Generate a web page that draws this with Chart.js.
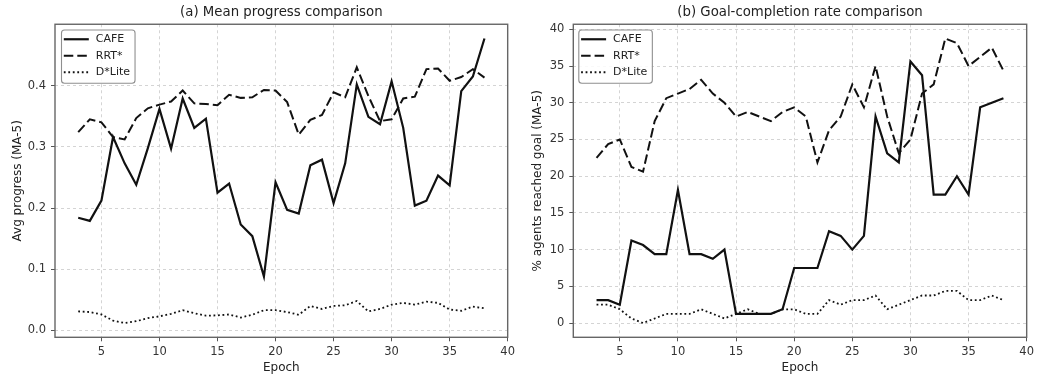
<!DOCTYPE html>
<html><head><meta charset="utf-8">
<script src="https://cdn.jsdelivr.net/npm/chart.js@4"></script>
<style>
html,body{margin:0;padding:0;background:#fff;}
#wrap{position:relative;width:1038px;height:380px;overflow:hidden;}
.box{position:absolute;top:0;height:380px;width:519px;}
</style></head><body>
<div id="wrap">
<div class="box" style="left:0"><canvas id="c1" width="519" height="380"></canvas></div>
<div class="box" style="left:519px"><canvas id="c2" width="519" height="380"></canvas></div>
</div>
<script>
const epochs = [3,4,5,6,7,8,9,10,11,12,13,14,15,16,17,18,19,20,21,22,23,24,25,26,27,28,29,30,31,32,33,34,35,36,37,38];
const seriesNames = ['CAFE', 'RRT*', 'D*Lite'];

const progCAFE = [0.184,0.179,0.212,0.316,0.273,0.238,0.298,0.362,0.297,0.379,0.331,0.346,0.225,0.240,0.173,0.154,0.088,0.242,0.197,0.191,0.270,0.279,0.208,0.273,0.402,0.349,0.337,0.407,0.331,0.204,0.212,0.253,0.237,0.391,0.415,0.477];
const progRRT = [0.324,0.345,0.340,0.316,0.312,0.347,0.363,0.369,0.374,0.392,0.371,0.370,0.368,0.385,0.380,0.381,0.393,0.392,0.373,0.320,0.344,0.352,0.389,0.381,0.430,0.383,0.342,0.345,0.379,0.382,0.427,0.428,0.408,0.414,0.427,0.413];
const progDLite = [0.031,0.030,0.026,0.016,0.012,0.015,0.020,0.023,0.027,0.033,0.028,0.024,0.0245,0.026,0.021,0.0255,0.033,0.033,0.030,0.0255,0.040,0.035,0.040,0.041,0.048,0.031,0.035,0.042,0.045,0.042,0.047,0.045,0.034,0.032,0.039,0.036];

const goalCAFE = [3.125,3.125,2.5,11.25,10.625,9.375,9.375,18.125,9.375,9.375,8.75,10.0,1.25,1.25,1.25,1.25,1.875,7.5,7.5,7.5,12.5,11.875,10.0,11.875,28.125,23.125,21.875,35.625,33.75,17.5,17.5,20.0,17.5,29.375,30.0,30.625];
const goalRRT = [22.5,24.375,25.0,21.25,20.625,27.5,30.625,31.25,31.875,33.125,31.25,30.0,28.125,28.75,28.125,27.5,28.75,29.375,28.125,21.875,26.25,28.125,32.5,29.375,35.0,28.125,23.125,25.0,31.25,32.5,38.75,38.125,35.0,36.25,37.5,34.375];
const goalDLite = [2.5,2.5,1.875,0.625,0,0.625,1.25,1.25,1.25,1.875,1.25,0.625,1.25,1.875,1.25,1.25,1.875,1.875,1.25,1.25,3.125,2.5,3.125,3.125,3.75,1.875,2.5,3.125,3.75,3.75,4.375,4.375,3.125,3.125,3.75,3.125];

const xTicks = [5,10,15,20,25,30,35,40];
const progTicks = [0.0,0.1,0.2,0.3,0.4];
const goalTicks = [0,5,10,15,20,25,30,35,40];

const FONT = '"DejaVu Sans", "Liberation Sans", sans-serif';
const styles = [
  {borderColor:'#111', borderWidth:2.2, borderDash:[]},
  {borderColor:'#111', borderWidth:2.0, borderDash:[9.5,4]},
  {borderColor:'#111', borderWidth:1.8, borderDash:[1.8,2.7]}
];

function makeDatasets(arrs){
  return arrs.map((vals,i)=>Object.assign({
    label: seriesNames[i],
    data: epochs.map((e,j)=>({x:e, y:vals[j]})),
    pointRadius:0, tension:0, fill:false
  }, styles[i]));
}

const framePlugin = {
  id:'frame',
  afterDatasetsDraw(chart){
    const {ctx, chartArea:a} = chart;
    ctx.save();
    ctx.strokeStyle = '#666'; ctx.lineWidth = 1.4; ctx.setLineDash([]);
    ctx.strokeRect(a.left, a.top, a.right-a.left, a.bottom-a.top);
    ctx.restore();
  }
};

const boxLegendPlugin = {
  id:'boxLegend',
  afterDraw(chart, args, opts){
    const {ctx, chartArea:a} = chart;
    const ds = chart.data.datasets;
    ctx.save();
    ctx.font = '11px ' + FONT;
    const tw = Math.max(...ds.map(d=>ctx.measureText(d.label).width));
    const x0 = a.left + opts.dx, y0 = a.top + 5.7;
    const w = 34.3 + tw + 5, h = 53.3, r = 3;
    ctx.beginPath();
    ctx.moveTo(x0+r, y0);
    ctx.lineTo(x0+w-r, y0); ctx.arcTo(x0+w, y0, x0+w, y0+r, r);
    ctx.lineTo(x0+w, y0+h-r); ctx.arcTo(x0+w, y0+h, x0+w-r, y0+h, r);
    ctx.lineTo(x0+r, y0+h); ctx.arcTo(x0, y0+h, x0, y0+h-r, r);
    ctx.lineTo(x0, y0+r); ctx.arcTo(x0, y0, x0+r, y0, r);
    ctx.closePath();
    ctx.fillStyle = 'rgba(255,255,255,0.85)'; ctx.fill();
    ctx.strokeStyle = '#8f8f8f'; ctx.lineWidth = 1.1; ctx.setLineDash([]); ctx.stroke();
    ds.forEach((d,i)=>{
      const cy = a.top + 15 + i*16.5;
      ctx.setLineDash(d.borderDash || []);
      ctx.strokeStyle = d.borderColor; ctx.lineWidth = d.borderWidth; ctx.lineCap = 'butt';
      ctx.beginPath(); ctx.moveTo(x0+2.3, cy); ctx.lineTo(x0+27.3, cy); ctx.stroke();
      ctx.setLineDash([]);
      ctx.fillStyle = '#222'; ctx.textBaseline = 'middle'; ctx.textAlign = 'left';
      ctx.fillText(d.label, x0+34.3, cy);
    });
    ctx.restore();
  }
};

function makeChart(id, opt){
  return new Chart(document.getElementById(id), {
    type:'line',
    data:{datasets: makeDatasets(opt.series)},
    plugins:[framePlugin, boxLegendPlugin],
    options:{
      responsive:false, animation:false, devicePixelRatio:1,
      layout:{padding:{left:0, right:opt.padRight, top:0, bottom:0}},
      plugins:{
        legend:{display:false}, tooltip:{enabled:false},
        title:{display:true, text:opt.title, fullSize:false, color:'#222',
          font:{family:FONT, size:13.3, weight:'normal', lineHeight:1.2},
          padding:{top:4.5, bottom:3.8}},
        boxLegend:{dx:opt.legendDx}
      },
      scales:{
        x:{type:'linear', min:1, max:40,
          afterFit(s){ s.height = 42.7; },
          afterBuildTicks(s){ s.ticks = xTicks.map(v=>({value:v})); },
          ticks:{color:'#333', font:{family:FONT, size:11.5}, padding:4, maxRotation:0, autoSkip:false},
          grid:{color:'#d4d4d4', lineWidth:1, drawTicks:true, tickLength:4, tickColor:'#555', tickWidth:1},
          border:{display:false, dash:[3,3]},
          title:{display:true, text:'Epoch', color:'#222', font:{family:FONT, size:12, lineHeight:1.2}, padding:{top:0, bottom:5}}
        },
        y:{type:'linear', min:opt.yMin, max:opt.yMax,
          afterFit(s){ s.width = opt.yWidth; },
          afterBuildTicks(s){ s.ticks = opt.yTicks.map(v=>({value:v})); },
          ticks:{color:'#333', font:{family:FONT, size:11.5}, padding:5, autoSkip:false,
            callback:(v)=>opt.fmt(v)},
          grid:{color:'#d4d4d4', lineWidth:1, drawTicks:true, tickLength:4, tickColor:'#555', tickWidth:1},
          border:{display:false, dash:[3,3]},
          title:{display:true, text:opt.yTitle, color:'#222', font:{family:FONT, size:12, lineHeight:1.2}, padding:{top:opt.yTitlePad, bottom:0}}
        }
      }
    }
  });
}

makeChart('c1', {
  series:[progCAFE, progRRT, progDLite],
  title:'(a) Mean progress comparison',
  yTitle:'Avg progress (MA-5)',
  yMin:-0.0113, yMax:0.5003, yTicks:progTicks, fmt:v=>Number(v).toFixed(1),
  yWidth:55, padRight:8, yTitlePad:10.3, legendDx:6.5
});
makeChart('c2', {
  series:[goalCAFE, goalRRT, goalDLite],
  title:'(b) Goal-completion rate comparison',
  yTitle:'% agents reached goal (MA-5)',
  yMin:-1.94, yMax:40.69, yTicks:goalTicks, fmt:v=>String(Math.round(v)),
  yWidth:54.3, padRight:9.7, yTitlePad:12, legendDx:5.5
});
</script>
</body></html>
